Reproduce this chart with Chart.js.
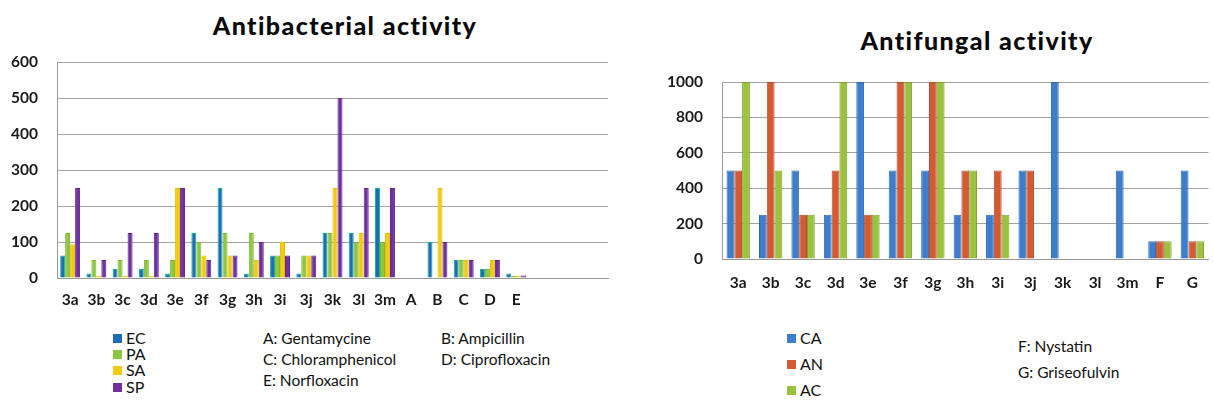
<!DOCTYPE html>
<html>
<head>
<meta charset="utf-8">
<script src="https://cdn.jsdelivr.net/npm/chart.js@4/dist/chart.umd.min.js"></script>
<style>
  html, body { margin: 0; padding: 0; background: #fff; }
  body { width: 1213px; height: 407px; position: relative; overflow: hidden; font-family: Lato, "Open Sans", sans-serif; color: #111; }
  .abs { position: absolute; }
  .title { font-weight: 900; font-size: 25px; letter-spacing: 1.4px; line-height: 1; white-space: nowrap; transform: translateX(-50%); color: #0a0a0a; }
  .note { font-size: 15.5px; white-space: nowrap; line-height: 1; }
  .leg { font-size: 16px; white-space: nowrap; line-height: 1; display: flex; align-items: center; }
  .sw { display: inline-block; width: 9px; height: 9px; margin-right: 4px; }
</style>
</head>
<body>
<div class="abs title" style="left:345px; top:13px;">Antibacterial activity</div>
<div class="abs title" style="left:977px; top:28px;">Antifungal activity</div>
<canvas id="c1" class="abs" style="left:0; top:0;" width="620" height="320"></canvas>
<canvas id="c2" class="abs" style="left:640px; top:0;" width="573" height="320"></canvas>
<div id="leg1"></div>
<div id="leg2"></div>
<div id="notes"></div>
<script>
// ---- Antibacterial data ----
const bactCategories = ["3a","3b","3c","3d","3e","3f","3g","3h","3i","3j","3k","3l","3m","A","B","C","D","E","","",""];
const bactSeriesNames = ["EC","PA","SA","SP"];
const EC = [62.5,12.5,25,25,12.5,125,250,12.5,62.5,12.5,125,125,250,0,100,50,25,12.5,null,null,null];
const PA = [125,50,50,50,50,100,125,125,62.5,62.5,125,100,100,0,0,50,25,6,null,null,null];
const SA = [94,6.25,6.25,6.25,250,62.5,62.5,50,100,62.5,250,125,125,0,250,50,50,6,null,null,null];
const SP = [250,50,125,125,250,50,62.5,100,62.5,62.5,500,250,250,0,100,50,50,7,null,null,null];
const bactTicks = [0,100,200,300,400,500,600];

// ---- Antifungal data ----
const fungCategories = ["3a","3b","3c","3d","3e","3f","3g","3h","3i","3j","3k","3l","3m","F","G"];
const fungSeriesNames = ["CA","AN","AC"];
const CA = [500,250,500,250,1000,500,500,250,250,500,1000,0,500,100,500];
const AN = [500,1000,250,500,250,1000,1000,500,500,500,0,0,0,100,100];
const AC = [1000,500,250,1000,250,1000,1000,500,250,0,0,0,0,100,100];
const fungTicks = [0,200,400,600,800,1000];

const bactNotes = [["A: Gentamycine","B: Ampicillin"],["C: Chloramphenicol","D: Ciprofloxacin"],["E: Norfloxacin",""]];
const fungNotes = ["F: Nystatin","G: Griseofulvin"];

// ---- styles ----
const bactFill = ["#1c6cb8","#8dc63f","#f2cb10","#7030a0"];
const bactEdge = ["#19b48a","#7fb834","#e6c000","#5f2590"];
const fungFill = ["#3d7dcc","#d35a33","#9bc23e"];
const fungEdge = ["#2f6ab4","#b84a28","#7fa52f"];
const tickFont = { family: "Lato", size: 15.5, weight: "bold" };

function makeChart(id, cats, names, series, fills, edges, ticks, max, geo) {
  return new Chart(document.getElementById(id), {
    type: 'bar',
    data: {
      labels: cats,
      datasets: series.map((s, i) => ({
        label: names[i], data: s,
        backgroundColor: fills[i], borderColor: edges[i], borderWidth: 1,
        categoryPercentage: geo.cat, barPercentage: 1.0
      }))
    },
    options: {
      responsive: false, animation: false, devicePixelRatio: 1,
      layout: { padding: { left: 0, right: geo.padRight, top: geo.top, bottom: 0 } },
      plugins: { legend: { display: false }, tooltip: { enabled: false }, title: { display: false } },
      scales: {
        x: {
          grid: { display: false, drawTicks: false },
          border: { display: true, color: '#9a9a9a', width: 1 },
          ticks: { font: tickFont, color: '#1a1a1a', padding: geo.xPad, maxRotation: 0, autoSkip: false },
          afterFit: (s) => { s.height = geo.xH; }
        },
        y: {
          min: 0, max: max,
          afterBuildTicks: (s) => { s.ticks = ticks.map(v => ({ value: v })); },
          grid: { color: '#a3a3a3', lineWidth: 1, drawTicks: false },
          border: { display: true, color: '#9a9a9a', width: 1 },
          ticks: { font: tickFont, color: '#1a1a1a', padding: geo.yPad, callback: (v) => String(v) },
          afterFit: (s) => { s.width = geo.yW; }
        }
      }
    }
  });
}

makeChart('c1', bactCategories, bactSeriesNames, [EC, PA, SA, SP], bactFill, bactEdge, bactTicks, 600,
  { cat: 0.76, padRight: 12, top: 62, xPad: 13, xH: 42, yPad: 19, yW: 57 });
makeChart('c2', fungCategories, fungSeriesNames, [CA, AN, AC], fungFill, fungEdge, fungTicks, 1000,
  { cat: 0.72, padRight: 0, top: 82, xPad: 15, xH: 61, yPad: 19, yW: 82 });

// ---- legends & notes (HTML text) ----
function legend(el, names, fills, x, ys) {
  const host = document.getElementById(el);
  names.forEach((n, i) => {
    const d = document.createElement('div');
    d.className = 'abs leg';
    d.style.left = x + 'px'; d.style.top = (ys[i] - 8) + 'px';
    d.innerHTML = '<span class="sw" style="background:' + fills[i] + '"></span>' + n;
    host.appendChild(d);
  });
}
legend('leg1', bactSeriesNames, bactFill, 113, [338, 354, 370, 387]);
legend('leg2', fungSeriesNames, fungFill, 787, [338, 364, 390]);

const notesHost = document.getElementById('notes');
function note(t, x, y) {
  if (!t) return;
  const d = document.createElement('div');
  d.className = 'abs note'; d.style.left = x + 'px'; d.style.top = (y - 8) + 'px';
  d.textContent = t; notesHost.appendChild(d);
}
const rowsY = [339, 360, 381];
bactNotes.forEach((r, i) => { note(r[0], 263, rowsY[i]); note(r[1], 441, rowsY[i]); });
fungNotes.forEach((t, i) => note(t, 1018, [347, 373][i]));
</script>
</body>
</html>
